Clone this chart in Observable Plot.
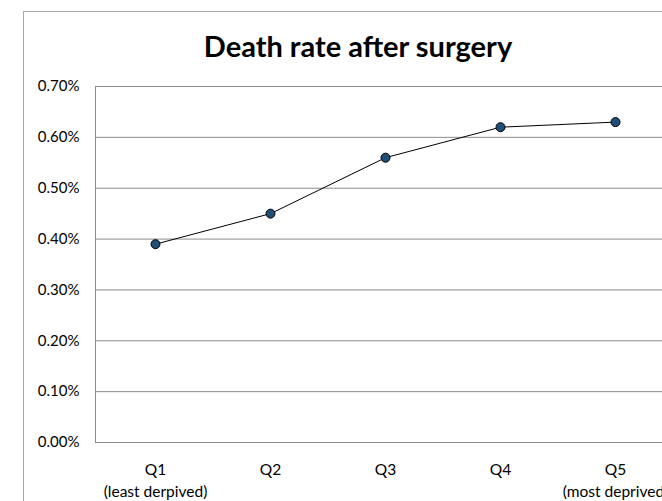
<!DOCTYPE html>
<html><head><meta charset="utf-8">
<script src="https://cdn.jsdelivr.net/npm/d3@7"></script>
<script src="https://cdn.jsdelivr.net/npm/@observablehq/plot@0.6"></script>
<style>
html,body{margin:0;padding:0;background:#fff;overflow:hidden;width:662px;height:501px;}
#wrap{position:relative;width:662px;height:501px;overflow:hidden;}
#border{position:absolute;left:23px;top:11px;width:800px;height:600px;border:1px solid #a6a6a6;box-sizing:border-box;}
#title{position:absolute;left:0;width:716px;top:28px;text-align:center;font-family:Lato,"Open Sans",sans-serif;font-weight:bold;font-size:29px;line-height:36px;color:#000;white-space:nowrap;}
#chart{position:absolute;left:0;top:0;width:680px;}
#chart svg{max-width:none !important;}
</style></head>
<body><div id="wrap"><div id="border"></div><div id="title">Death rate after surgery</div><div id="chart"></div></div>
<script>
const quintiles = ["Q1", "Q2", "Q3", "Q4", "Q5"];
const tickLabels = ["Q1\n(least derpived)", "Q2", "Q3", "Q4", "Q5\n(most deprived)"];
const deathRate = [0.0039, 0.0045, 0.0056, 0.0062, 0.0063];
const yTicks = [0, 0.001, 0.002, 0.003, 0.004, 0.005, 0.006, 0.007];

const data = quintiles.map((q, i) => ({q, v: deathRate[i]}));
const labelOf = Object.fromEntries(quintiles.map((q, i) => [q, tickLabels[i]]));

const plot = Plot.plot({
  width: 680, height: 501,
  marginTop: 86, marginLeft: 95, marginRight: 6, marginBottom: 59,
  style: {fontFamily: "Lato, 'Open Sans', sans-serif", fontSize: "15px", color: "#000", background: "transparent", maxWidth: "none"},
  x: {type: "point", domain: quintiles, padding: 0.5, axis: null, label: null},
  y: {domain: [0, 0.007], axis: null, label: null},
  marks: [
    Plot.gridY(yTicks, {stroke: "#8c8c8c", strokeOpacity: 1}),
    Plot.frame({stroke: "#8c8c8c"}),
    Plot.axisY(yTicks, {tickSize: 0, tickPadding: 16, tickFormat: d => d3.format(".2%")(d), fontSize: 15, label: null}),
    Plot.axisX(quintiles, {tickSize: 0, tickPadding: 17, tickFormat: d => labelOf[d], lineHeight: 1.42, fontSize: 15.5, label: null}),
    Plot.line(data, {x: "q", y: "v", stroke: "#000", strokeWidth: 1}),
    Plot.dot(data, {x: "q", y: "v", r: 4.5, fill: "#1f4e79", stroke: "#000", strokeWidth: 1})
  ]
});
document.getElementById("chart").appendChild(plot);
</script></body></html>
